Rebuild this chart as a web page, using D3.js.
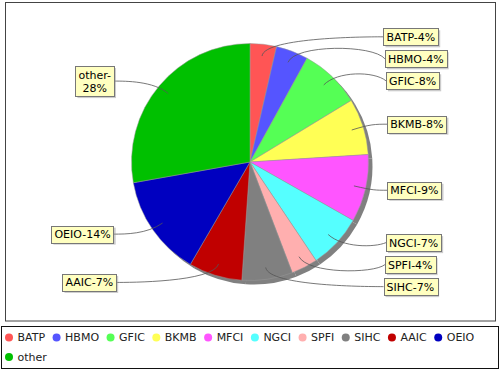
<!DOCTYPE html>
<html>
<head>
<meta charset="utf-8">
<script src="https://cdn.jsdelivr.net/npm/d3@7"></script>
<style>
  body { margin: 0; background: #fff; }
  text { font-family: "DejaVu Sans", sans-serif; }
</style>
</head>
<body>
<div id="chart"></div>
<script>
// slices, clockwise from 12 o'clock
const categories = ["BATP", "HBMO", "GFIC", "BKMB", "MFCI", "NGCI", "SPFI", "SIHC", "AAIC", "OEIO", "other"];
const values = [3.6, 4.4, 8.3, 7.7, 9.2, 7.4, 3.6, 6.9, 7.3, 13.8, 27.8];
const colors = ["#ff5555", "#5555ff", "#55ff55", "#ffff55", "#ff55ff", "#55ffff",
                "#ffafaf", "#808080", "#c00000", "#0000c0", "#00c000"];

const w = 500, h = 370;
const cx = 250, cy = 162, radius = 118.5;
const linkR = 126;       // ellipse where labels would like to sit
const labelGap = 5;      // space between stacked labels
const maxTextW = 56.8;   // wider labels get wrapped

const svg = d3.select("#chart")
  .append("svg")
  .attr("width", w)
  .attr("height", h);

// plot frame
svg.append("rect")
  .attr("x", 5.5).attr("y", 2.5)
  .attr("width", 490).attr("height", 318.5)
  .attr("fill", "none")
  .attr("stroke", "#444");

const total = d3.sum(values);
const pie = d3.pie().sort(null).value(d => d);
const arcs = pie(values);
const arc = d3.arc().innerRadius(0).outerRadius(radius);

const pieG = svg.append("g").attr("transform", "translate(" + cx + "," + cy + ")");

// shadow
pieG.append("g")
  .attr("transform", "translate(4,4)")
  .selectAll("path")
  .data(arcs)
  .join("path")
  .attr("d", arc)
  .attr("fill", "#808080");

pieG.append("g")
  .selectAll("path")
  .data(arcs)
  .join("path")
  .attr("d", arc)
  .attr("fill", (d, i) => colors[i])
  .attr("stroke", "#999")
  .attr("stroke-width", 0.5);

// measure helper
const measure = svg.append("text").attr("font-size", 11).attr("x", -1000).attr("y", -1000);
function textWidth(s) {
  measure.text(s);
  return measure.node().getComputedTextLength();
}

// label records
const labels = arcs.map((d, i) => {
  const pct = Math.round(d.value / total * 100);
  const full = categories[i] + "-" + pct + "%";
  let lines = [full];
  if (textWidth(full) > maxTextW) {
    lines = [categories[i] + "-", pct + "%"];
  }
  const tw = d3.max(lines, l => textWidth(l));
  const mid = (d.startAngle + d.endAngle) / 2;
  return {
    i: i,
    lines: lines,
    bw: tw + 6,
    bh: lines.length * 13 + 4,
    mid: mid,
    side: Math.sin(mid) >= 0 ? "right" : "left",
    y: cy - linkR * Math.cos(mid),
    natY: cy - linkR * Math.cos(mid)
  };
});
measure.remove();

// push labels away from each other, towards the middle
function distribute(list) {
  list.sort((a, b) => a.y - b.y);
  const n = list.length;
  const half = Math.ceil(n / 2);
  for (let k = 1; k < half; k++) {
    const need = list[k - 1].y + (list[k - 1].bh + list[k].bh) / 2 + labelGap;
    if (list[k].y < need) list[k].y = need;
  }
  for (let k = n - 2; k >= half; k--) {
    const need = list[k + 1].y - (list[k + 1].bh + list[k].bh) / 2 - labelGap;
    if (list[k].y > need) list[k].y = need;
  }
}
distribute(labels.filter(l => l.side === "right"));
distribute(labels.filter(l => l.side === "left"));

function edgeOffset(dy) {
  return 125 + 12.5 * Math.cos(Math.asin(Math.max(-1, Math.min(1, dy / 170))));
}

const linkG = svg.append("g");
const labelG = svg.append("g");

labels.forEach(l => {
  const s = l.side === "right" ? 1 : -1;
  const edgeX = cx + s * edgeOffset(l.y - cy);
  const bx = s > 0 ? edgeX : edgeX - l.bw;
  const by = l.y - l.bh / 2;

  const x0 = cx + 0.9 * radius * Math.sin(l.mid);
  const y0 = cy - 0.9 * radius * Math.cos(l.mid);
  const ex = cx + linkR * Math.sin(l.mid);
  const ey = l.natY;
  const path = d3.path();
  path.moveTo(x0, y0);
  path.bezierCurveTo(ex, ey, edgeX - s * 12, ey, edgeX, l.y);
  linkG.append("path")
    .attr("d", path.toString())
    .attr("fill", "none")
    .attr("stroke", "#555")
    .attr("stroke-width", 0.8);

  labelG.append("rect")
    .attr("x", bx + 2).attr("y", by + 2)
    .attr("width", l.bw).attr("height", l.bh)
    .attr("fill", "rgba(151,151,151,0.5)");
  labelG.append("rect")
    .attr("x", Math.round(bx) + 0.5).attr("y", Math.round(by) + 0.5)
    .attr("width", Math.round(l.bw)).attr("height", Math.round(l.bh))
    .attr("fill", "#ffffc0")
    .attr("stroke", "#777")
    .attr("stroke-width", 1);
  l.lines.forEach((line, j) => {
    labelG.append("text")
      .attr("x", bx + l.bw / 2)
      .attr("y", by + 2 + 13 * j + 6.5)
      .attr("dy", "0.36em")
      .attr("text-anchor", "middle")
      .attr("font-size", 11)
      .attr("fill", "#000")
      .text(line);
  });
});

// legend
const legendBox = svg.append("rect")
  .attr("x", 1.5).attr("y", 326.5)
  .attr("width", 497).attr("height", 42)
  .attr("fill", "#fff")
  .attr("stroke", "#111");

const legend = svg.append("g");
let lx = 5, row = 0;
categories.forEach((c, i) => {
  const item = legend.append("g");
  const t = item.append("text")
    .attr("x", 12.5)
    .attr("dy", "0.36em")
    .attr("font-size", 11)
    .attr("fill", "#222")
    .text(c);
  const tw = t.node().getComputedTextLength();
  const iw = 12.5 + tw;
  if (lx + iw > 494) { lx = 5; row++; }
  item.append("circle")
    .attr("cx", 4).attr("cy", 0).attr("r", 4)
    .attr("fill", colors[i]);
  item.attr("transform", "translate(" + lx + "," + (337.5 + row * 19.5) + ")");
  lx += iw + 7.5;
});
</script>
</body>
</html>
